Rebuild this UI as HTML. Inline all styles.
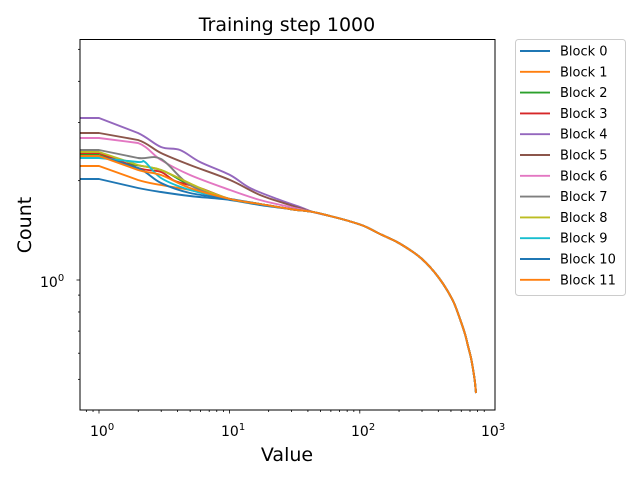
<!DOCTYPE html>
<html><head><meta charset="utf-8"><style>
body{margin:0;background:#fff;}
svg{display:block;font-family:"DejaVu Sans","Liberation Sans",sans-serif;}
</style></head><body>
<svg width="640" height="480" viewBox="0 0 640 480" xmlns="http://www.w3.org/2000/svg">
<rect width="640" height="480" fill="#fff"/>
<text x="287" y="31" font-size="19" text-anchor="middle">Training step 1000</text>
<g id="lines" fill="none" stroke-width="1.9" stroke-linejoin="round"></g>
<rect x="80" y="39.5" width="415" height="370.5" fill="none" stroke="#000" stroke-width="1"/>
<g stroke="#000" stroke-width="0.8" id="ticks"></g>
<g font-size="14">
<text x="90" y="436">10<tspan dy="-6" font-size="10">0</tspan></text>
<text x="221" y="436">10<tspan dy="-6" font-size="10">1</tspan></text>
<text x="351" y="436">10<tspan dy="-6" font-size="10">2</tspan></text>
<text x="481" y="436">10<tspan dy="-6" font-size="10">3</tspan></text>
<text x="40" y="287">10<tspan dy="-6" font-size="10">0</tspan></text>
</g>
<text x="287" y="461" font-size="19" text-anchor="middle">Value</text>
<text x="31" y="225" font-size="19" text-anchor="middle" transform="rotate(-90 31 225)">Count</text>
<rect x="515.5" y="39.5" width="110" height="256" rx="3" fill="#fff" stroke="#ccc"/>
<g id="legend" font-size="13"></g>
</svg>
<script>
var C=["#1f77b4","#ff7f0e","#2ca02c","#d62728","#9467bd","#8c564b","#e377c2","#7f7f7f","#bcbd22","#17becf","#1f77b4","#ff7f0e"];
var tail=[[313,212],[330,216],[347,220.5],[364,226],[380,234],[397,242],[413,252],[422,259],[430,267],[439,278],[447,290],[454,303],[460,319],[465,334],[468,346],[471,358],[473,369],[474.8,381],[476,393]];
var H=[
[[80,179],[99,179],[138,188],[161,192],[190,196],[230,200],[260,205],[290,209]],
[[80,166],[99,166],[138,180],[161,185],[190,190],[230,199],[260,204],[290,209]],
[[80,155],[99,155],[125,163],[161,170],[190,185],[230,199],[260,204],[290,209]],
[[80,153],[99,153],[138,168],[161,172],[175,181],[200,188],[230,199],[260,204],[290,209]],
[[80,118],[99,118],[138,133],[161,147],[180,150],[200,162],[230,175],[250,188],[280,200],[300,207]],
[[80,133],[99,133],[138,140],[161,153],[190,165],[230,180],[260,195],[290,205]],
[[80,138],[99,138],[138,143],[161,160],[190,175],[230,190],[260,200],[290,207]],
[[80,150],[99,150],[138,158],[161,159],[190,185],[230,199],[260,204],[290,209]],
[[80,152],[99,152],[138,165],[161,170],[200,188],[230,199],[260,204],[290,209]],
[[80,158],[99,158],[138,162],[145,162],[161,178],[190,190],[230,199],[260,204],[290,209]],
[[80,156],[99,156],[138,168],[161,183],[190,193],[230,199],[260,204],[290,209]],
[[80,156],[99,156],[138,170],[161,175],[190,188],[230,199],[260,204],[290,209]]];
function path(p){var d='M'+p[0][0]+','+p[0][1];
for(var i=0;i<p.length-1;i++){var a=p[i-1]||p[i],b=p[i],c=p[i+1],e=p[i+2]||c;
if(i<2){d+=' L'+c[0]+','+c[1];continue;}
var c1=[b[0]+(c[0]-a[0])/6,b[1]+(c[1]-a[1])/6],c2=[c[0]-(e[0]-b[0])/6,c[1]-(e[1]-b[1])/6];
d+=' C'+c1.join(',')+' '+c2.join(',')+' '+c.join(',');}
return d;}
var g=document.getElementById('lines'),s='';
H.forEach(function(h,i){s+='<path stroke="'+C[i]+'" d="'+path(h.concat(tail))+'"/>';});
g.innerHTML=s;
var t='',L=Math.log10;
for(var d=-1;d<3;d++)for(var k=1;k<10;k++){var v=k*Math.pow(10,d);var x=99+130.4*L(v);if(x<80||x>495)continue;
t+='<line x1="'+x+'" x2="'+x+'" y1="410" y2="'+(k==1?413.5:412)+'"/>';}
[0.4,0.5,0.6,0.7,0.8,0.9,1,2,3,4,5].forEach(function(v){var y=280-330*L(v);if(y<40||y>410)return;
t+='<line x1="80" x2="'+(v==1?76.5:78)+'" y1="'+y+'" y2="'+y+'"/>';});
document.getElementById('ticks').innerHTML=t;
var l='';for(var i=0;i<12;i++){var y=51+20.8*i;
l+='<line x1="520" x2="550" y1="'+y+'" y2="'+y+'" stroke="'+C[i]+'" stroke-width="1.9"/><text x="560" y="'+(y+4.5)+'">Block '+i+'</text>';}
document.getElementById('legend').innerHTML=l;
</script>
</body></html>
